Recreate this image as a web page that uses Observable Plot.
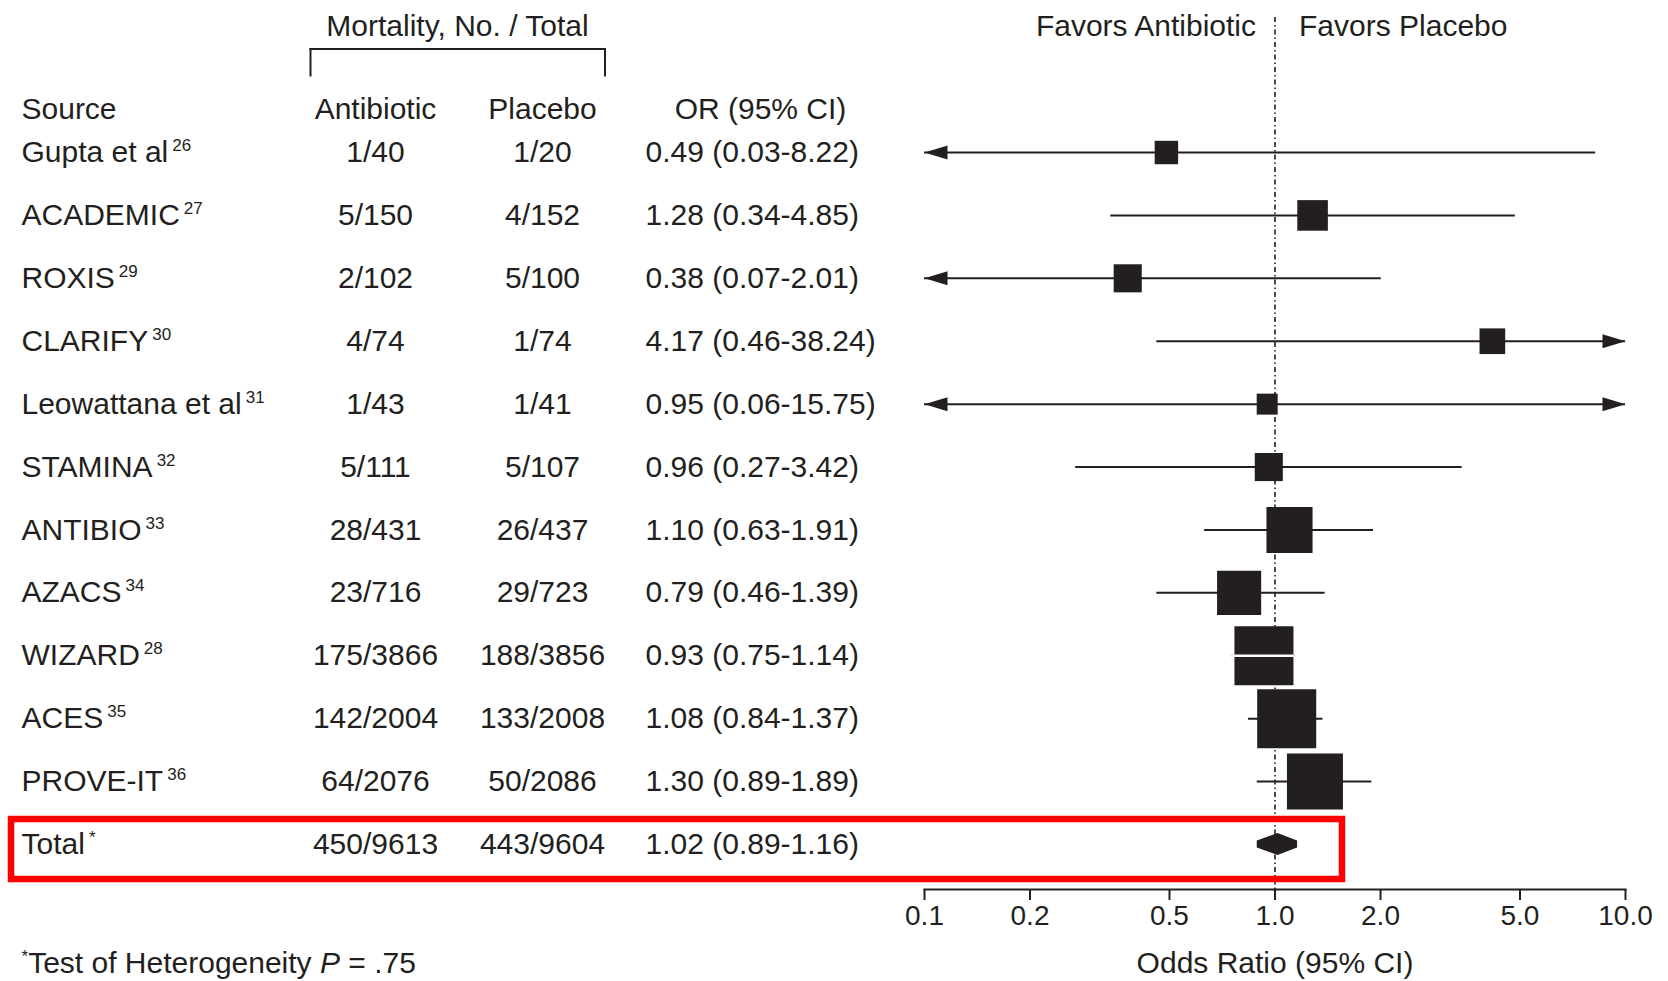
<!DOCTYPE html>
<html>
<head>
<meta charset="utf-8">
<script src="https://cdn.jsdelivr.net/npm/d3@7"></script>
<script src="https://cdn.jsdelivr.net/npm/@observablehq/plot@0.6"></script>
<style>
  html, body { margin: 0; padding: 0; background: #fff; }
  #chart svg { display: block; }
</style>
</head>
<body>
<div id="chart"></div>
<script>
// ---- Data ----
const sources    = ["Gupta et al", "ACADEMIC", "ROXIS", "CLARIFY", "Leowattana et al", "STAMINA", "ANTIBIO", "AZACS", "WIZARD", "ACES", "PROVE-IT", "Total"];
const refs       = ["26", "27", "29", "30", "31", "32", "33", "34", "28", "35", "36", "*"];
const antibiotic = ["1/40", "5/150", "2/102", "4/74", "1/43", "5/111", "28/431", "23/716", "175/3866", "142/2004", "64/2076", "450/9613"];
const placebo    = ["1/20", "4/152", "5/100", "1/74", "1/41", "5/107", "26/437", "29/723", "188/3856", "133/2008", "50/2086", "443/9604"];
const orEst      = [0.49, 1.28, 0.38, 4.17, 0.95, 0.96, 1.10, 0.79, 0.93, 1.08, 1.30, 1.02];
const ciLow      = [0.03, 0.34, 0.07, 0.46, 0.06, 0.27, 0.63, 0.46, 0.75, 0.84, 0.89, 0.89];
const ciHigh     = [8.22, 4.85, 2.01, 38.24, 15.75, 3.42, 1.91, 1.39, 1.14, 1.37, 1.89, 1.16];
const weights    = [3.0, 5.1, 4.3, 3.6, 2.4, 4.3, 11.6, 10.6, 19.0, 19.0, 17.1, null]; // % weight (box area)
const xTicks     = [0.1, 0.2, 0.5, 1, 2, 5, 10];
const xDomain    = [0.1, 10];

// ---- Build table ----
const rows = sources.map((s, i) => ({
  source: s, ref: refs[i], anti: antibiotic[i], plac: placebo[i],
  or: orEst[i], lo: ciLow[i], hi: ciHigh[i], w: weights[i]
}));
const studies = rows.filter(d => d.w != null);
const total = rows.find(d => d.w == null);
const fmt = v => v.toFixed(2);

const ink = "#231f20";
const [xMin, xMax] = xDomain;

// arrow symbols (tip at origin)
const arrowLeft = { draw(ctx) { ctx.moveTo(0, 0); ctx.lineTo(23, -7); ctx.lineTo(23, 7); ctx.closePath(); } };
const arrowRight = { draw(ctx) { ctx.moveTo(0, 0); ctx.lineTo(-23, -7); ctx.lineTo(-23, 7); ctx.closePath(); } };

// diamond for pooled estimate, drawn through the plot's scales
function diamond(index, scales) {
  const x = scales.x, y = scales.y;
  const yc = y(total.source);
  const x0 = x(total.lo), x1 = x(total.hi), xm = x(total.or);
  const p = document.createElementNS("http://www.w3.org/2000/svg", "path");
  p.setAttribute("d", `M${x0},${yc - 3.5}L${xm},${yc - 11}L${x1},${yc - 3.5}L${x1},${yc + 3.5}L${xm},${yc + 11}L${x0},${yc + 3.5}Z`);
  p.setAttribute("fill", ink);
  return p;
}

const FS = 30;
const colSource = -903, colAnti = -549, colPlac = -382, colOR = -279; // offsets from the plot's left frame edge
const T = { fontSize: FS, fill: ink, lineAnchor: "middle" };

const plot = Plot.plot({
  width: 1668,
  height: 981,
  marginLeft: 924,
  marginRight: 43,
  marginTop: 17,
  marginBottom: 92,
  style: { fontFamily: "'Liberation Sans', Arial, Helvetica, sans-serif", fontSize: FS + "px", color: ink, background: "#fff", overflow: "visible" },
  x: { type: "log", domain: xDomain },
  y: { type: "point", domain: sources, range: [152, 844], padding: 0, round: false, axis: null },
  r: { type: "sqrt", domain: [0, 19], range: [0, 33.3] },
  marks: [
    // reference line at OR = 1
    Plot.ruleX([1], { stroke: ink, strokeWidth: 1.6, strokeDasharray: "5,3,1.5,3" }),
    // x axis
    Plot.frame({ anchor: "bottom", stroke: ink, strokeWidth: 2 }),
    Plot.axisX({ ticks: xTicks, tickFormat: d => d.toFixed(1), tickSize: 11, tickPadding: 5, fontSize: 28, stroke: ink, strokeWidth: 2, label: null }),
    Plot.text(["Odds Ratio (95% CI)"], { ...T, frameAnchor: "bottom", dy: 74, textAnchor: "middle" }),
    // confidence intervals
    Plot.ruleY(studies, { y: "source", x1: d => Math.max(d.lo, xMin), x2: d => Math.min(d.hi, xMax), stroke: ink, strokeWidth: 2 }),
    Plot.dot(studies.filter(d => d.lo < xMin), { x: () => xMin, y: "source", symbol: arrowLeft, r: 5, fill: ink, stroke: "none" }),
    Plot.dot(studies.filter(d => d.hi > xMax), { x: () => xMax, y: "source", symbol: arrowRight, r: 5, fill: ink, stroke: "none" }),
    // weighted boxes
    Plot.dot(studies, { x: "or", y: "source", r: "w", symbol: "square", fill: ink, stroke: "none" }),
    Plot.ruleY(studies.filter(d => d.source === "WIZARD"), { y: "source", x1: "lo", x2: "hi", stroke: "#fff", strokeWidth: 2.5 }),
    // pooled estimate
    diamond,
    // headers
    Plot.text(["Mortality, No. / Total"], { ...T, frameAnchor: "top-left", dx: -467, dy: 8.5, textAnchor: "middle" }),
    Plot.frame({ anchor: "top", stroke: ink, strokeWidth: 2, insetLeft: -614, insetRight: 1020.5, insetTop: 31.5, insetBottom: 814 }),
    Plot.frame({ anchor: "left", stroke: ink, strokeWidth: 2, insetLeft: -614, insetRight: 1020.5, insetTop: 31.5, insetBottom: 814 }),
    Plot.frame({ anchor: "right", stroke: ink, strokeWidth: 2, insetLeft: -614, insetRight: 1020.5, insetTop: 31.5, insetBottom: 814 }),
    Plot.text(["Favors Antibiotic"], { ...T, x: () => 1, frameAnchor: "top", dx: -19, dy: 8.5, textAnchor: "end" }),
    Plot.text(["Favors Placebo"], { ...T, x: () => 1, frameAnchor: "top", dx: 24, dy: 8.5, textAnchor: "start" }),
    Plot.text(["Source"], { ...T, frameAnchor: "top-left", dx: colSource, dy: 91.5, textAnchor: "start" }),
    Plot.text(["Antibiotic"], { ...T, frameAnchor: "top-left", dx: colAnti, dy: 91.5, textAnchor: "middle" }),
    Plot.text(["Placebo"], { ...T, frameAnchor: "top-left", dx: colPlac, dy: 91.5, textAnchor: "middle" }),
    Plot.text(["OR (95% CI)"], { ...T, frameAnchor: "top-left", dx: colOR + 115, dy: 91.5, textAnchor: "middle" }),
    // table columns
    Plot.text(rows, { ...T, y: "source", frameAnchor: "left", dx: colSource, textAnchor: "start", text: d => `${d.source}{sup:${d.ref}}` }),
    Plot.text(rows, { ...T, y: "source", frameAnchor: "left", dx: colAnti, textAnchor: "middle", text: "anti" }),
    Plot.text(rows, { ...T, y: "source", frameAnchor: "left", dx: colPlac, textAnchor: "middle", text: "plac" }),
    Plot.text(rows, { ...T, y: "source", frameAnchor: "left", dx: colOR, textAnchor: "start", text: d => `${fmt(d.or)} (${fmt(d.lo)}-${fmt(d.hi)})` }),
    // footnote
    Plot.text(["{sup:*}Test of Heterogeneity {i:P} = .75"], { ...T, frameAnchor: "bottom-left", dx: colSource, dy: 74, textAnchor: "start" }),
    // highlight box around pooled row
    Plot.frame({ stroke: "#ff0000", strokeWidth: 6.5, insetLeft: -913.5, insetRight: 283.5, insetTop: 801.5, insetBottom: 10.5 })
  ]
});

// rich text: superscripts and italics
const NS = "http://www.w3.org/2000/svg";
for (const t of plot.querySelectorAll("text")) {
  const s = t.textContent;
  if (!/\{(sup|i):[^}]*\}/.test(s)) continue;
  const parts = s.split(/(\{(?:sup|i):[^}]*\})/);
  t.textContent = "";
  let raised = false, first = true;
  for (const p of parts) {
    if (!p) continue;
    const m = p.match(/^\{(sup|i):([^}]*)\}$/);
    const ts = document.createElementNS(NS, "tspan");
    if (m && m[1] === "sup") {
      ts.textContent = m[2];
      ts.setAttribute("font-size", 17);
      ts.setAttribute("dy", -11);
      if (!first) ts.setAttribute("dx", 4);
      raised = true;
    } else {
      if (raised) { ts.setAttribute("dy", 11); raised = false; }
      if (m) { ts.textContent = m[2]; ts.setAttribute("font-style", "italic"); }
      else ts.textContent = p;
    }
    first = false;
    t.appendChild(ts);
  }
}

document.getElementById("chart").appendChild(plot);
</script>
</body>
</html>
